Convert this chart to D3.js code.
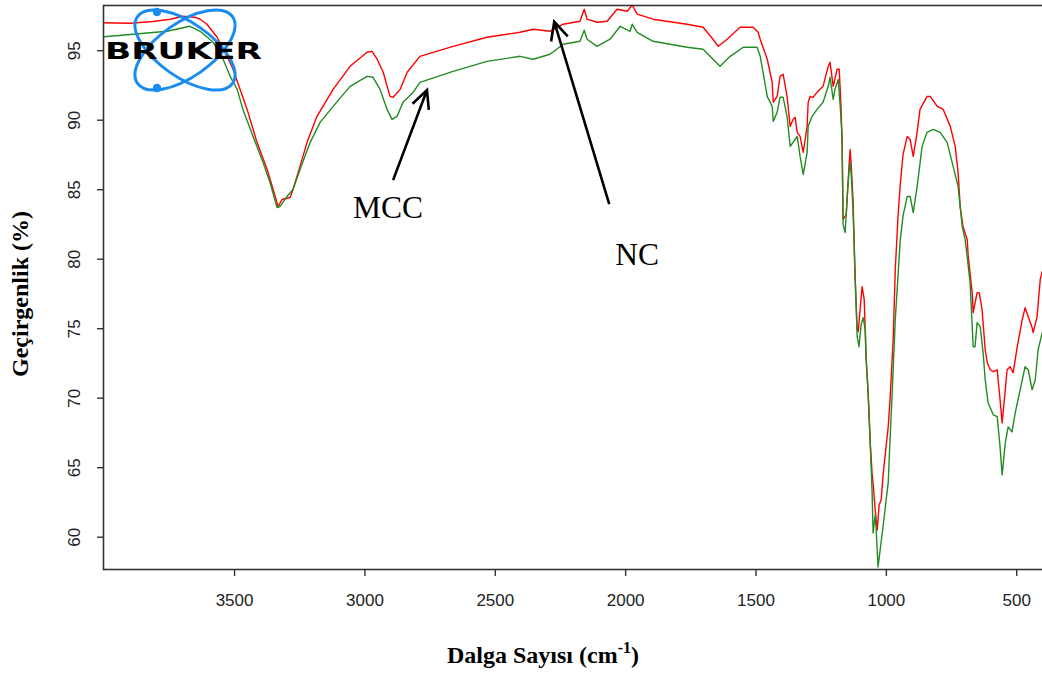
<!DOCTYPE html>
<html>
<head>
<meta charset="utf-8">
<script src="https://cdn.jsdelivr.net/npm/d3@7"></script>
<style>
  html, body { margin: 0; padding: 0; background: #fff; }
  svg { display: block; }
</style>
</head>
<body>
<div id="chart"></div>
<script>
// ---------------- DATA ----------------
// NC (red) spectrum: wavenumber (cm-1) and transmittance (%)
const ncWave = [4000,3899,3811,3745,3696,3650,3630,3604,3565,3527,3504,3477,3450,3412,3373,3350,3331,3316,3285,3274,3247,3220,3182,3120,3055,2990,2971,2951,2928,2902,2890,2863,2836,2787,2660,2530,2403,2353,2288,2238,2173,2157,2146,2108,2069,2031,1992,1973,1954,1893,1762,1701,1663,1643,1609,1559,1509,1490,1482,1455,1436,1432,1417,1406,1394,1379,1367,1356,1348,1340,1329,1317,1302,1298,1290,1279,1264,1241,1221,1214,1202,1187,1179,1172,1168,1164,1152,1141,1137,1133,1126,1118,1110,1106,1099,1091,1083,1076,1068,1060,1053,1049,1041,1033,1026,1018,1010,991,984,972,964,953,945,934,918,907,895,880,869,842,830,803,780,753,734,723,715,704,688,684,669,665,650,642,631,619,611,600,588,573,562,554,542,535,523,512,496,477,466,454,439,435,420,408,400];
const ncTrans = [96.98,96.94,97.06,97.23,97.44,97.37,97.23,96.87,95.93,94.56,93.63,92.19,90.74,88.37,86.42,84.98,83.75,84.26,84.40,84.98,86.64,88.37,90.24,92.18,93.84,94.85,94.92,94.35,93.41,91.68,91.61,92.18,93.41,94.56,95.28,95.93,96.29,96.51,96.36,96.87,97.08,97.95,97.23,97.01,97.08,97.95,97.80,98.24,97.59,97.23,96.87,96.65,95.79,95.28,95.79,96.65,96.65,96.29,95.79,94.35,92.69,91.25,91.68,93.12,93.27,91.68,89.52,90.02,90.17,89.09,88.80,87.65,89.52,91.25,91.68,91.61,91.97,92.40,93.84,94.13,92.40,93.63,93.63,90.96,88.37,82.82,83.18,86.78,87.86,86.78,84.26,78.71,74.89,74.75,76.33,77.99,77.05,72.95,70.35,66.75,64.59,63.87,61.92,60.48,62.28,62.64,64.59,67.90,69.85,74.17,79.20,83.18,85.30,87.50,88.80,88.58,87.36,89.09,90.74,91.68,91.68,90.96,90.74,89.52,88.08,86.21,83.75,82.31,81.38,80.15,77.56,76.12,77.56,77.56,76.33,73.45,72.51,72.01,71.87,72.01,69.85,68.19,70.57,72.01,72.23,71.79,73.67,75.61,76.48,75.83,75.04,74.68,75.83,78.49,79.10];

// MCC (green) spectrum
const mccWave = [4000,3887,3757,3669,3630,3580,3542,3515,3488,3466,3427,3389,3362,3335,3324,3297,3274,3247,3208,3170,3120,3055,2990,2967,2940,2913,2894,2875,2852,2813,2787,2660,2530,2403,2353,2288,2238,2173,2157,2146,2108,2058,2019,1981,1973,1954,1893,1762,1701,1663,1636,1597,1547,1494,1482,1471,1455,1436,1432,1417,1406,1394,1379,1367,1356,1340,1329,1317,1302,1298,1283,1264,1241,1221,1214,1202,1195,1183,1175,1168,1164,1156,1149,1141,1137,1133,1126,1118,1110,1103,1095,1087,1079,1076,1068,1060,1053,1049,1041,1037,1030,1022,1010,999,991,984,972,964,957,945,934,918,907,895,880,861,842,819,792,765,742,723,715,707,696,688,677,665,658,650,638,627,619,608,588,573,562,554,542,531,516,504,485,466,454,439,427,416,400];
const mccTrans = [95.97,96.15,96.36,96.72,96.36,95.57,94.35,93.12,92.18,90.74,88.80,86.93,85.48,83.68,83.75,84.48,84.98,86.42,88.37,89.81,90.96,92.40,93.12,93.05,92.18,90.74,90.02,90.24,91.25,91.97,92.69,93.48,94.20,94.56,94.35,94.71,95.43,95.64,96.44,95.79,95.28,95.79,96.72,96.36,96.87,96.29,95.64,95.21,95.07,94.35,93.84,94.56,95.21,95.21,94.56,93.41,91.68,90.96,89.88,90.53,91.61,91.61,90.24,88.08,88.37,88.80,87.36,86.06,87.65,89.52,90.24,90.74,91.25,92.40,93.05,91.46,92.18,92.90,90.96,88.80,82.46,81.88,84.26,86.42,86.93,86.06,83.54,78.71,74.39,73.67,75.25,75.76,74.89,72.95,70.35,66.75,63.36,60.27,61.56,60.48,57.82,59.04,60.84,62.64,63.87,66.97,72.00,75.60,77.70,81.30,83.10,84.48,84.48,83.32,85.20,88.08,89.09,89.30,89.09,88.37,86.64,85.20,83.75,82.31,81.38,80.15,78.28,73.67,73.67,75.40,75.11,73.23,71.29,69.63,68.77,68.63,66.46,64.45,66.75,67.90,67.54,68.91,70.57,72.23,72.01,70.57,71.29,73.45,74.70];

const xTicks = [3500, 3000, 2500, 2000, 1500, 1000, 500];
const yTicks = [60, 65, 70, 75, 80, 85, 90, 95];
const xTitle = "Dalga Sayısı (cm";
const xTitleSup = "-1";
const yTitle = "Geçirgenlik (%)";

// annotation anchors in data units: [wavenumber, transmittance]
const mccLabel = { text: "MCC", at: [3044, 82.9], tail: [2890, 85.65], tip: [2760, 92.14] };
const ncLabel  = { text: "NC",  at: [2038, 79.55], tail: [2061, 83.93], tip: [2272, 97.05] };

// ---------------- LAYOUT ----------------
const W = 1042, H = 673;
const svg = d3.select("#chart").append("svg").attr("width", W).attr("height", H);

const x = d3.scaleLinear().domain([4000, 400]).range([103.7, 1042.3]);
const y = d3.scaleLinear().domain([60, 95]).range([536.7, 50.2]);
const plotTop = 5, plotBottom = 569, plotLeft = 103;

// frame (right side falls outside the picture)
svg.append("rect")
  .attr("x", plotLeft + 0.5).attr("y", plotTop + 0.5)
  .attr("width", 960).attr("height", plotBottom - plotTop)
  .attr("fill", "none").attr("stroke", "#333").attr("stroke-width", 1.6);

// y axis
const gy = svg.append("g").attr("transform", `translate(${plotLeft},0)`)
  .call(d3.axisLeft(y).tickValues(yTicks).tickSize(6).tickFormat(d3.format("d")));
gy.select(".domain").remove();
gy.selectAll(".tick line").attr("stroke", "#333").attr("stroke-width", 1.4);
gy.selectAll(".tick text")
  .attr("transform", "rotate(-90)")
  .attr("x", 0).attr("y", -23).attr("dy", 0)
  .attr("text-anchor", "middle")
  .attr("font-family", "'Liberation Sans', Arial, sans-serif")
  .attr("font-size", 17).attr("fill", "#222");

// x axis
const gx = svg.append("g").attr("transform", `translate(0,${plotBottom})`)
  .call(d3.axisBottom(x).tickValues(xTicks).tickSize(7).tickFormat(d3.format("d")));
gx.select(".domain").remove();
gx.selectAll(".tick line").attr("stroke", "#333").attr("stroke-width", 1.4);
gx.selectAll(".tick text")
  .attr("y", 37).attr("dy", 0)
  .attr("font-family", "'Liberation Sans', Arial, sans-serif")
  .attr("font-size", 17).attr("fill", "#222");

// clip for data
svg.append("clipPath").attr("id", "clip").append("rect")
  .attr("x", plotLeft + 1).attr("y", plotTop + 1)
  .attr("width", W).attr("height", plotBottom - plotTop - 1.5);

const line = d3.line().x(d => x(d[0])).y(d => y(d[1]));
const ncData = ncWave.map((w, i) => [w, ncTrans[i]]);
const mccData = mccWave.map((w, i) => [w, mccTrans[i]]);

const gData = svg.append("g").attr("clip-path", "url(#clip)");
gData.append("path").datum(ncData).attr("d", line)
  .attr("fill", "none").attr("stroke", "#ff0000").attr("stroke-width", 1.4)
  .attr("stroke-linejoin", "round");
gData.append("path").datum(mccData).attr("d", line)
  .attr("fill", "none").attr("stroke", "#228b22").attr("stroke-width", 1.4)
  .attr("stroke-linejoin", "round");

// Bruker logo
const logo = svg.append("g");
const blue = "#1a8cf0";
const lcx = 185, lcy = 50;
[35, -35].forEach(a => {
  logo.append("ellipse").attr("cx", lcx).attr("cy", lcy).attr("rx", 58).attr("ry", 27)
    .attr("transform", `rotate(${a},${lcx},${lcy})`)
    .attr("fill", "none").attr("stroke", blue).attr("stroke-width", 3);
});
logo.append("circle").attr("cx", 157).attr("cy", 12).attr("r", 4.2).attr("fill", blue);
logo.append("circle").attr("cx", 157).attr("cy", 88).attr("r", 4.2).attr("fill", blue);
logo.append("text").attr("x", 105).attr("y", 59)
  .attr("textLength", 157).attr("lengthAdjust", "spacingAndGlyphs")
  .attr("font-family", "'DejaVu Sans', sans-serif").attr("font-weight", "bold")
  .attr("font-size", 23).attr("fill", "#000").text("BRUKER");

// annotations
function arrow(tail, tip) {
  const x1 = x(tail[0]), y1 = y(tail[1]), x2 = x(tip[0]), y2 = y(tip[1]);
  const ang = Math.atan2(y2 - y1, x2 - x1);
  const L = 20, spread = 0.45;
  const p = d3.path();
  p.moveTo(x1, y1); p.lineTo(x2, y2);
  p.moveTo(x2 - L * Math.cos(ang - spread), y2 - L * Math.sin(ang - spread));
  p.lineTo(x2, y2);
  p.lineTo(x2 - L * Math.cos(ang + spread), y2 - L * Math.sin(ang + spread));
  svg.append("path").attr("d", p.toString()).attr("fill", "none")
    .attr("stroke", "#000").attr("stroke-width", 2.6).attr("stroke-linecap", "butt");
}
[mccLabel, ncLabel].forEach(a => {
  arrow(a.tail, a.tip);
  svg.append("text").attr("x", x(a.at[0])).attr("y", y(a.at[1]))
    .attr("font-family", "'Liberation Serif', 'Times New Roman', serif")
    .attr("font-size", 31.5).attr("fill", "#000").text(a.text);
});

// axis titles
const xt = svg.append("text").attr("x", 543).attr("y", 663).attr("text-anchor", "middle")
  .attr("font-family", "'Liberation Serif', 'Times New Roman', serif")
  .attr("font-weight", "bold").attr("font-size", 24).attr("fill", "#000");
xt.append("tspan").text(xTitle);
xt.append("tspan").attr("dy", -10).attr("font-size", 16).text(xTitleSup);
xt.append("tspan").attr("dy", 10).text(")");

svg.append("text").attr("transform", "translate(28,294) rotate(-90)")
  .attr("text-anchor", "middle")
  .attr("font-family", "'Liberation Serif', 'Times New Roman', serif")
  .attr("font-weight", "bold").attr("font-size", 24).attr("fill", "#000")
  .text(yTitle);
</script>
</body>
</html>
